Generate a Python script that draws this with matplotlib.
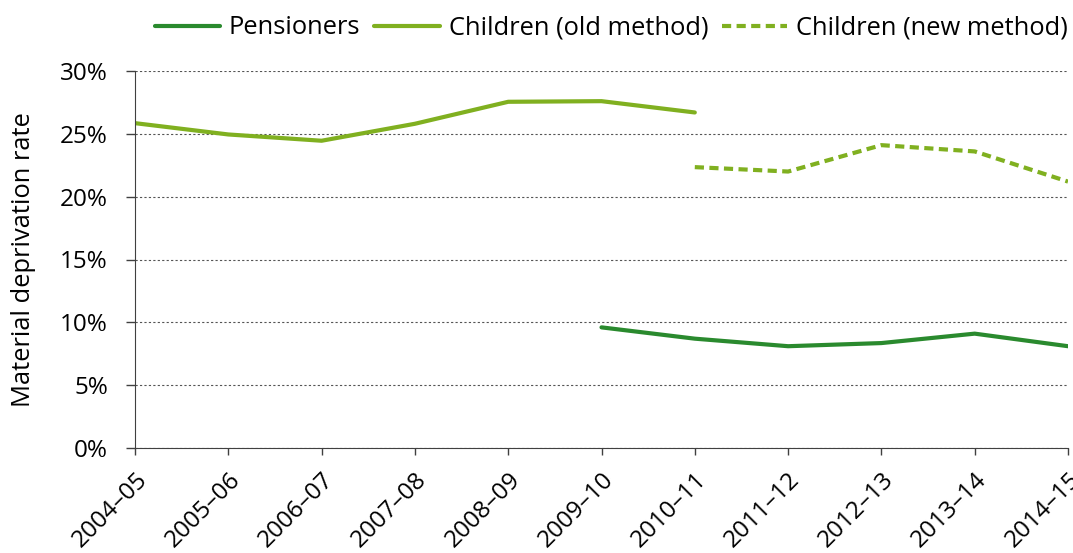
import matplotlib
matplotlib.use("Agg")
import matplotlib.pyplot as plt
import numpy as np

plt.rcParams['font.family'] = ['Open Sans', 'DejaVu Sans']

years = ['2004–05', '2005–06', '2006–07', '2007–08', '2008–09', '2009–10',
         '2010–11', '2011–12', '2012–13', '2013–14', '2014–15']
pensioners = [None, None, None, None, None, 9.6, 8.7, 8.1, 8.35, 9.1, 8.1]
children_old = [25.85, 24.95, 24.45, 25.8, 27.55, 27.6, 26.7, None, None, None, None]
children_new = [None, None, None, None, None, None, 22.35, 22.0, 24.1, 23.6, 21.2]

def arr(v):
    return np.array([np.nan if a is None else a for a in v], dtype=float)

x = np.arange(len(years))
fig = plt.figure(figsize=(10.73, 5.53), dpi=100)
ax = fig.add_axes([135/1073, 1 - 448/553, (1068-135)/1073, (448-71)/553])

ax.plot(x, arr(pensioners), color='#2a8a2e', lw=3, label='Pensioners', solid_capstyle='round')
ax.plot(x, arr(children_old), color='#80b020', lw=3, label='Children (old method)', solid_capstyle='round')
ax.plot(x, arr(children_new), color='#80b020', lw=3, ls=(0, (2.2, 1.3)), label='Children (new method)')

ax.set_xlim(0, len(years) - 1)
ax.set_ylim(0, 30)
ax.set_yticks(range(0, 31, 5))
ax.set_yticklabels([f'{v}%' for v in range(0, 31, 5)])
ax.set_xticks(x)
ax.set_xticklabels(years, rotation=45, ha='right', va='top', rotation_mode='anchor')
ax.tick_params(axis='y', labelsize=17.5, color='#404040', length=6.5, width=1, pad=13)
ax.tick_params(axis='x', labelsize=17.5, color='#404040', length=5, width=1, pad=9)
ax.grid(axis='y', ls=(0, (2, 2)), color='#555555', lw=0.8)
for s in ['top', 'right']:
    ax.spines[s].set_visible(False)
for s in ['left', 'bottom']:
    ax.spines[s].set_color('#404040')
ax.set_ylabel('Material deprivation rate', fontsize=18.4)
ax.yaxis.set_label_coords(-0.106, 0.5)

ax.legend(loc='center right', bbox_to_anchor=(1.0, (553 - 28 - 105) / 377), ncol=3,
          frameon=False, fontsize=18.4, handlelength=2.55, columnspacing=0.55,
          handletextpad=0.35, borderaxespad=0.0, borderpad=0.0)

fig.savefig('out.png', dpi=100)
